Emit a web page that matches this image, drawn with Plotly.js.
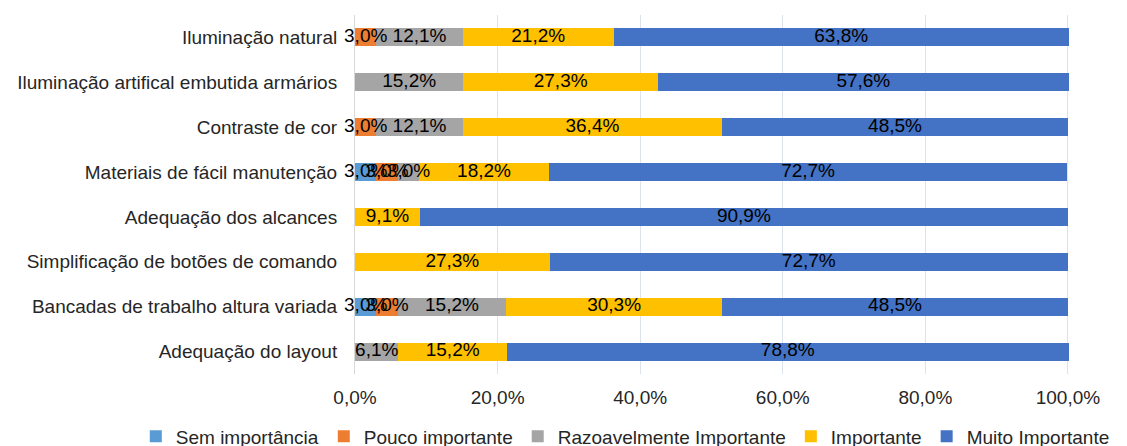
<!DOCTYPE html>
<html>
<head>
<meta charset="utf-8">
<script src="https://cdn.plot.ly/plotly-3.0.1.min.js"></script>
<style>html,body{margin:0;padding:0;background:#fff;}#chart{width:1127px;height:446px;}</style>
</head>
<body>
<div id="chart"></div>
<script>
const categories = [
  "Iluminação natural",
  "Iluminação artifical embutida armários",
  "Contraste de cor",
  "Materiais de fácil manutenção",
  "Adequação dos alcances",
  "Simplificação de botões de comando",
  "Bancadas de trabalho altura variada",
  "Adequação do layout"
];
const seriesNames = ["Sem importância", "Pouco importante", "Razoavelmente Importante", "Importante", "Muito Importante"];
const semImportancia = [null, null, null, 3.0, null, null, 3.0, null];
const poucoImportante = [3.0, null, 3.0, 3.0, null, null, 3.0, null];
const razoavelmente = [12.1, 15.2, 12.1, 3.0, null, null, 15.2, 6.1];
const importante = [21.2, 27.3, 36.4, 18.2, 9.1, 27.3, 30.3, 15.2];
const muitoImportante = [63.8, 57.6, 48.5, 72.7, 90.9, 72.7, 48.5, 78.8];
const colors = ["#5B9BD5", "#ED7D31", "#A5A5A5", "#FFC000", "#4472C4"];
const tickVals = [0, 20, 40, 60, 80, 100];
const tickText = tickVals.map(v => v.toFixed(1).replace(".", ",") + "%");

const allSeries = [semImportancia, poucoImportante, razoavelmente, importante, muitoImportante];
const FONT = "Liberation Sans, Arial, sans-serif";
const FS = 19;

const traces = allSeries.map((vals, i) => ({
  type: "bar",
  orientation: "h",
  name: seriesNames[i],
  x: vals,
  y: categories,
  marker: {color: colors[i]},
  hoverinfo: "skip"
}));

// data labels drawn above all bars, positioned at each segment's middle (from the data)
const cum = categories.map(() => 0);
allSeries.forEach((vals) => {
  const xs = [], ys = [], ts = [];
  vals.forEach((v, j) => {
    if (v !== null && v !== undefined) {
      xs.push(cum[j] + v / 2);
      ys.push(categories[j]);
      ts.push(v.toFixed(1).replace(".", ",") + "%");
      cum[j] += v;
    }
  });
  traces.push({
    type: "scatter",
    mode: "text",
    x: xs, y: ys, text: ts,
    textposition: "middle center",
    textfont: {family: FONT, size: FS, color: "#000"},
    cliponaxis: false,
    showlegend: false,
    hoverinfo: "skip"
  });
});

const layout = {
  width: 1127, height: 446,
  margin: {l: 355, r: 58, t: 15, b: 72, autoexpand: false},
  barmode: "stack",
  bargap: 0.6,
  separators: ",.",
  paper_bgcolor: "#fff",
  plot_bgcolor: "#fff",
  font: {family: FONT, size: FS, color: "#262626"},
  xaxis: {
    range: [0, 100.15],
    tickvals: tickVals,
    ticktext: tickText,
    showgrid: true,
    gridcolor: "#DDE3EA",
    gridwidth: 1,
    zeroline: false,
    showline: false,
    ticks: "",
    ticklabelstandoff: 10,
    fixedrange: true,
    tickfont: {family: FONT, size: FS, color: "#262626"}
  },
  yaxis: {
    autorange: "reversed",
    showline: true,
    linecolor: "#D9D9D9",
    ticks: "",
    ticklabelstandoff: 13,
    tickfont: {family: FONT, size: FS, color: "#262626"}
  },
  showlegend: true,
  legend: {
    orientation: "h",
    x: -0.307,
    xanchor: "left",
    y: -0.174,
    yanchor: "middle",
    traceorder: "normal",
    font: {family: FONT, size: FS, color: "#262626"}
  }
};

Plotly.newPlot("chart", traces, layout, {displayModeBar: false, staticPlot: true});
</script>
</body>
</html>
